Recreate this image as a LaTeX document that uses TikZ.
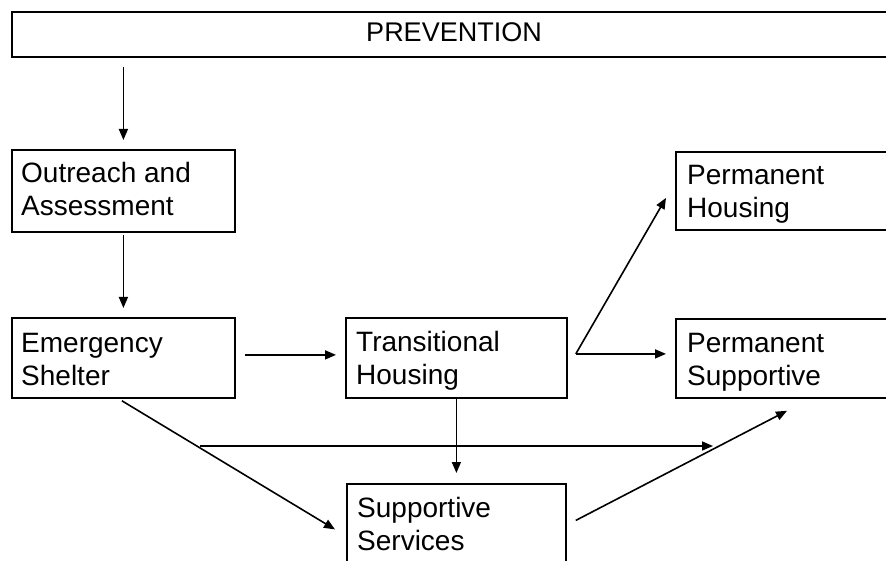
\documentclass[tikz,border=0pt]{standalone}
\usepackage{fontspec}
\setmainfont{Liberation Sans}
\usetikzlibrary{arrows.meta}
\begin{document}
\begin{tikzpicture}[x=1pt,y=-1pt,
  box/.style={draw, line width=1.8pt, rectangle, inner sep=0pt, anchor=north west},
  txt/.style={anchor=base west, inner sep=0pt, font=\fontsize{28}{33}\selectfont},
  ptxt/.style={anchor=base, inner sep=0pt, font=\fontsize{27}{32}\selectfont},
  arr/.style={draw, line width=1.6pt, -{Triangle[length=11pt,width=9pt]}},
  ln/.style={draw, line width=1.6pt}]
\useasboundingbox (0,0) rectangle (886,561);
\clip (0,0) rectangle (886,561);
\fill[white] (0,0) rectangle (886,561);
% boxes
\node[box, minimum width=895pt, minimum height=45pt] (prev) at (11,11) {};
\node[box, minimum width=223pt, minimum height=82pt] (oa) at (11,149) {};
\node[box, minimum width=223pt, minimum height=80pt] (es) at (11,317) {};
\node[box, minimum width=221pt, minimum height=80pt] (th) at (345,317) {};
\node[box, minimum width=219pt, minimum height=78pt] (ss) at (346,483) {};
\node[box, minimum width=230pt, minimum height=78pt] (ph) at (675,151) {};
\node[box, minimum width=230pt, minimum height=79pt] (ps) at (675,318) {};
% texts
\node[ptxt] (prevt) at (454,42) {PREVENTION};
\node[txt] (oa1) at ([shift={(10pt,-34pt)}]oa.north west) {Outreach and};
\node[txt] (oa2) at ([shift={(10pt,-67pt)}]oa.north west) {Assessment};
\node[txt] (es1) at ([shift={(10pt,-35pt)}]es.north west) {Emergency};
\node[txt] (es2) at ([shift={(10pt,-68pt)}]es.north west) {Shelter};
\node[txt] (th1) at ([shift={(11pt,-34pt)}]th.north west) {Transitional};
\node[txt] (th2) at ([shift={(11pt,-67pt)}]th.north west) {Housing};
\node[txt] (ss1) at ([shift={(11pt,-34pt)}]ss.north west) {Supportive};
\node[txt] (ss2) at ([shift={(11pt,-67pt)}]ss.north west) {Services};
\node[txt] (ph1) at ([shift={(12pt,-34pt)}]ph.north west) {Permanent};
\node[txt] (ph2) at ([shift={(12pt,-67pt)}]ph.north west) {Housing};
\node[txt] (ps1) at ([shift={(12pt,-34pt)}]ps.north west) {Permanent};
\node[txt] (ps2) at ([shift={(12pt,-67pt)}]ps.north west) {Supportive};
% coordinates
\coordinate (fork) at ([shift={(8pt,4pt)}]th.east);
\coordinate (br) at (200,446);
\coordinate (mg) at (713,446);
% connectors
\draw[arr, shorten <=9pt, shorten >=9pt] (prev.south -| oa.north) -- (oa.north);
\draw[arr, shorten <=2pt, shorten >=9pt] (oa.south) -- (es.north);
\draw[arr, shorten <=9pt, shorten >=9pt] ([yshift=3pt]es.east) -- ([yshift=3pt]th.west);
\draw[ln, shorten <=8pt] ([yshift=4pt]th.east) -- (fork);
\draw[arr] (fork) -- ([shift={(-9pt,-7pt)}]ph.west);
\draw[arr] (fork) -- ([shift={(-9pt,4.5pt)}]ps.west);
\draw[arr, shorten >=10pt] (th.south) -- (ss.north);
\draw[arr] ([shift={(-1.5pt,-2pt)}]es.south) -- ([shift={(-11pt,-6.5pt)}]ss.west);
\draw[arr] (br) -- (mg);
\draw[arr] ([shift={(9pt,2.5pt)}]ss.east) -- ([shift={(112pt,-12pt)}]ps.south west);
\end{tikzpicture}
\end{document}
